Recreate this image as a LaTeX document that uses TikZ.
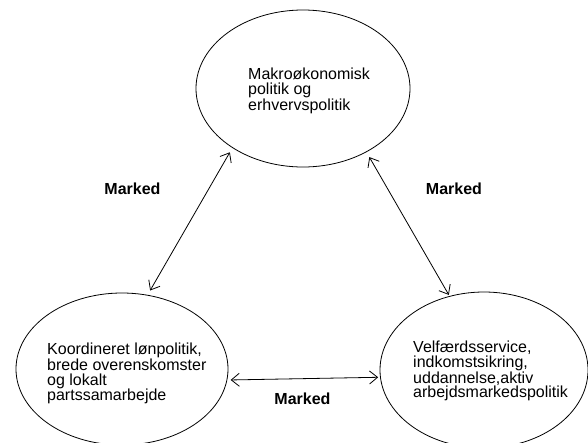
\documentclass[tikz,border=0pt]{standalone}
\usepackage{fontspec}
\setmainfont{Liberation Sans}
\usetikzlibrary{shapes.geometric,arrows.meta}
\begin{document}
\begin{tikzpicture}[x=1pt,y=-1pt,
  bubble/.style={ellipse,draw,line width=0.8pt,inner sep=0pt,outer sep=0pt},
  body/.style={align=left,anchor=north west,inner sep=0pt,font=\fontsize{16}{14.8}\selectfont},
  lbl/.style={anchor=base,inner sep=0pt,font=\fontsize{16}{18}\selectfont\bfseries},
  link/.style={{Straight Barb[length=8pt,width=13pt]}-{Straight Barb[length=8pt,width=13pt]},line width=0.8pt}
]
\useasboundingbox (0,0) rectangle (588,442);
\clip (0,0) rectangle (588,442);

\node[bubble,minimum width=214pt,minimum height=157pt] (top) at (303,88.5) {};
\node[bubble,minimum width=212pt,minimum height=152pt] (bl) at (122,369) {};
\node[bubble,minimum width=208pt,minimum height=156pt] (br) at (484,370) {};

\node[body] (ttop) at (248,67.5) {Makroøkonomisk\\politik og\\erhvervspolitik};
\node[body] (tbl) at (47,342.5) {Koordineret lønpolitik,\\brede overenskomster\\og lokalt\\partssamarbejde};
\node[body] (tbr) at (413,340.5) {Velfærdsservice,\\indkomstsikring,\\uddannelse,aktiv\\arbejdsmarkedspolitik};

\node[lbl] (m1) at (132.5,194) {Marked};
\node[lbl] (m2) at (454,194) {Marked};
\node[lbl] (m3) at (302.5,404) {Marked};

\draw[link,shorten <=5.4pt,shorten >=5.45pt] (top.220.83) -- (bl.71.13);
\draw[link,shorten <=6.1pt,shorten >=1.7pt] (top.315.5) -- (br.115.34);
\draw[link,shorten <=3.8pt,shorten >=2.3pt] (bl.354.95) -- (br.184.59);
\end{tikzpicture}
\end{document}
